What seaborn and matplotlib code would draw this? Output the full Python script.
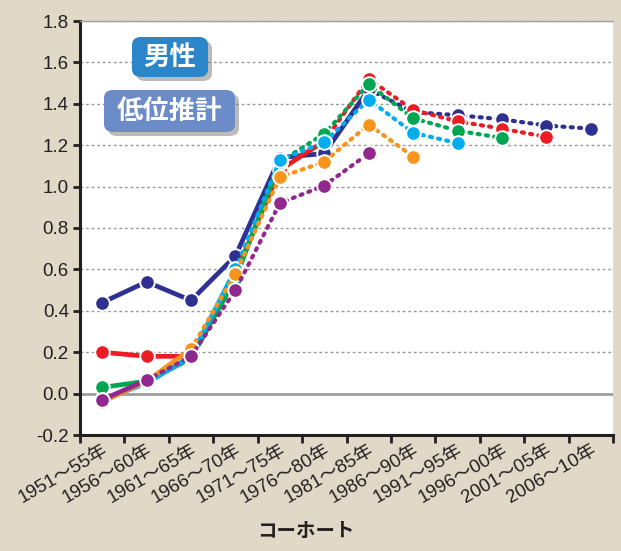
import matplotlib
matplotlib.use("Agg")
import matplotlib.pyplot as plt
import matplotlib.transforms as mtransforms
from matplotlib.patches import FancyBboxPatch
import numpy as np
import pandas as pd
import seaborn as sns

# Cohort categories (x axis)
cohorts = ["1951～55年", "1956～60年", "1961～65年", "1966～70年", "1971～75年",
           "1976～80年", "1981～85年", "1986～90年", "1991～95年", "1996～00年",
           "2001～05年", "2006～10年"]

# Values per survey round; None where the round has no value
navy   = [0.44, 0.54, 0.45, 0.665, 1.14, 1.16, 1.47, 1.36, 1.345, 1.325, 1.295, 1.28]
red    = [0.20, 0.18, 0.18, 0.58, 1.08, 1.22, 1.52, 1.37, 1.315, 1.28, 1.24, None]
green  = [0.03, 0.06, 0.17, 0.555, 1.12, 1.255, 1.495, 1.33, 1.27, 1.235, None, None]
cyan   = [-0.03, 0.05, 0.18, 0.60, 1.128, 1.215, 1.42, 1.26, 1.21, None, None, None]
orange = [-0.04, 0.06, 0.215, 0.58, 1.045, 1.12, 1.30, 1.145, None, None, None, None]
purple = [-0.03, 0.065, 0.18, 0.50, 0.92, 1.005, 1.16, None, None, None, None, None]

# Index of the last observed cohort in each series (dotted = projection after it)
last_observed = {"navy": 6, "red": 5, "green": 4, "cyan": 3, "orange": 2, "purple": 1}

series = {"navy": navy, "red": red, "green": green,
          "cyan": cyan, "orange": orange, "purple": purple}
colors = {"navy": "#2e3192", "red": "#ed1c24", "green": "#00a651",
          "cyan": "#00aeef", "orange": "#f7941d", "purple": "#92278f"}

y_ticks = [-0.2, 0.0, 0.2, 0.4, 0.6, 0.8, 1.0, 1.2, 1.4, 1.6, 1.8]

rows = []
for name, vals in series.items():
    for i, v in enumerate(vals):
        if v is None:
            continue
        rows.append({"series": name, "pos": i, "value": v,
                     "observed": i <= last_observed[name],
                     "projected": i >= last_observed[name]})
df = pd.DataFrame(rows)

sns.set_theme(style="white")
plt.rcParams["font.family"] = ["Liberation Sans", "Noto Sans CJK JP", "DejaVu Sans"]

BG = "#e1d9c8"
INK = "#231f20"
W, H = 621, 551

fig = plt.figure(figsize=(W / 100, H / 100), dpi=100, facecolor=BG)
ax = fig.add_axes([80 / W, 1 - 435 / H, 533 / W, 414 / H])
ax.set_facecolor("white")

# Grid lines and zero line
for t in y_ticks[1:]:
    if abs(t) < 1e-9:
        continue
    ax.axhline(t, color="#9a9a9a", lw=1.0, ls=(0, (2, 2)), zorder=1)
ax.axhline(0.0, color="#9d9d9d", lw=2.0, zorder=1)

dotted = (0, (0.5, 1.5))
for z, name in enumerate(series):
    d = df[df["series"] == name]
    c = colors[name]
    sns.lineplot(data=d[d["projected"]], x="pos", y="value", ax=ax, color=c,
                 lw=3.0, linestyle=dotted, dash_capstyle="round",
                 marker="o", markersize=10.5, markeredgecolor="white",
                 markeredgewidth=1.4, zorder=3 + z, estimator=None)
    sns.lineplot(data=d[d["observed"]], x="pos", y="value", ax=ax, color=c,
                 lw=3.4, marker="o", markersize=10.5, markeredgecolor="white",
                 markeredgewidth=1.4, zorder=3 + z, estimator=None)

ax.set_xlim(-0.5, len(cohorts) - 0.5)
ax.set_ylim(-0.2, 1.8)

# Y axis
ax.set_yticks(y_ticks)
ax.set_yticklabels([f"{t:.1f}" for t in y_ticks], fontsize=13.5, color=INK)

# X axis: tick marks on category boundaries, labels at centres
ax.set_xticks(np.arange(-0.5, len(cohorts), 1.0))
ax.set_xticklabels([])
ax.set_xticks(np.arange(len(cohorts)), minor=True)
ax.set_xticklabels(cohorts, minor=True, rotation=30, ha="right",
                   rotation_mode="anchor", fontsize=13.5, color=INK)
offset = mtransforms.ScaledTranslation(11 / 72, 0, fig.dpi_scale_trans)
for lab in ax.get_xticklabels(minor=True):
    lab.set_transform(lab.get_transform() + offset)
ax.tick_params(axis="x", which="major", direction="out", length=6, width=2,
               color=INK, bottom=True)
ax.tick_params(axis="x", which="minor", length=0, pad=5)
ax.tick_params(axis="y", direction="out", length=5, width=2, color=INK,
               left=True, pad=3)

for side in ["left", "bottom"]:
    ax.spines[side].set_color(INK)
    ax.spines[side].set_linewidth(2.2)
ax.spines["right"].set_visible(False)
ax.spines["top"].set_color("#a0a0a0")
ax.spines["top"].set_linewidth(1.0)

ax.set_xlabel("コーホート", fontsize=14, fontweight="bold", color=INK)
ax.xaxis.set_label_coords((306 - 80) / 533, -(524 - 435) / 414)
ax.set_ylabel("")


def badge(x0, y0, x1, y1, text, fc):
    # rounded badge in pixel coordinates with a soft drop shadow
    w, h = (x1 - x0) / W, (y1 - y0) / H
    left, bottom = x0 / W, 1 - y1 / H
    r = 9 / W
    shadow = FancyBboxPatch((left + 4 / W, bottom - 4 / H), w, h,
                            boxstyle=f"round,pad=0,rounding_size={r}",
                            transform=fig.transFigure, fc="#6e6a62",
                            ec="none", alpha=0.45, zorder=20)
    box = FancyBboxPatch((left, bottom), w, h,
                         boxstyle=f"round,pad=0,rounding_size={r}",
                         transform=fig.transFigure, fc=fc, ec="none",
                         zorder=21)
    fig.patches.extend([shadow, box])
    fig.text(left + w / 2, bottom + h / 2, text, ha="center", va="center",
             fontsize=19, fontweight="bold", color="white",
             family=["Noto Sans CJK JP"], zorder=22)


badge(132, 37, 208, 77, "男性", "#2a86c8")
badge(104, 90, 235, 132, "低位推計", "#6b8cc8")

fig.savefig("out.png", dpi=100, facecolor=BG)
